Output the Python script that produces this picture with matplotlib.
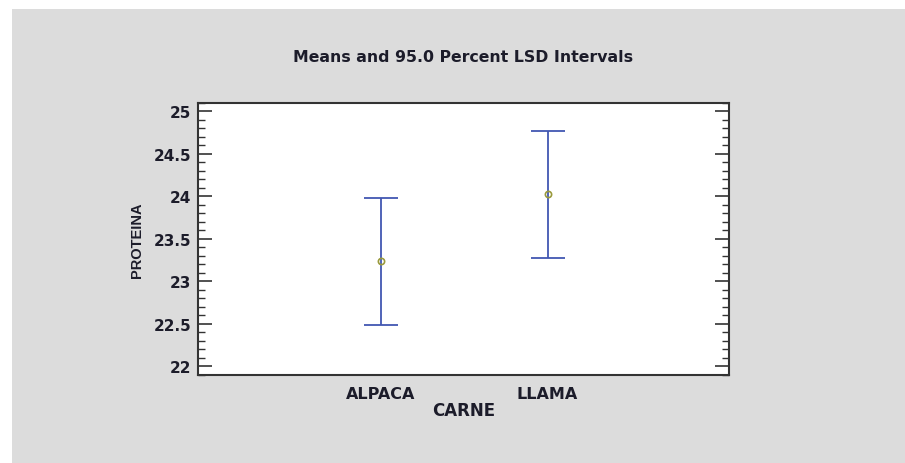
import matplotlib
matplotlib.use("Agg")
import matplotlib.pyplot as plt
from matplotlib.patches import Rectangle
from matplotlib.ticker import MultipleLocator, FormatStrFormatter

# Group means of protein content with 95% LSD half-widths
categories = ["ALPACA", "LLAMA"]
means = [23.235, 24.02]
lsd_half = [0.745, 0.745]

title = "Means and 95.0 Percent LSD Intervals"
xlabel = "CARNE"
ylabel = "PROTEINA"

W, H = 905, 464
fig = plt.figure(figsize=(W / 100, H / 100), dpi=100)
fig.patch.set_facecolor("white")

# grey panel behind the plot
fig.patches.append(Rectangle((12 / W, 0), 1 - 12 / W, 1 - 10 / H,
                             transform=fig.transFigure, facecolor="#dcdcdc",
                             edgecolor="none", zorder=-10))

left, right = 198 / W, 729 / W
bottom, top = 1 - 376 / H, 1 - 103.5 / H
ax = fig.add_axes([left, bottom, right - left, top - bottom])
ax.set_facecolor("white")

x = list(range(len(categories)))
ax.errorbar(x, means, yerr=lsd_half, fmt="none", ecolor="#4257b2",
            elinewidth=1.3, capsize=12.5, capthick=1.3)
ax.plot(x, means, linestyle="none", marker="o", markersize=4.5,
        markerfacecolor="none", markeredgecolor="#9a9a3c", markeredgewidth=1.2)

ax.set_xlim(-1.1, 2.09)
ax.set_ylim(21.9, 25.1)

ax.set_xticks(x)
ax.set_xticklabels(categories)
ax.tick_params(axis="x", length=0, pad=8)
for lab in ax.get_xticklabels():
    lab.set_fontfamily("DejaVu Sans")
    lab.set_fontweight("bold")
    lab.set_fontsize(11.5)
    lab.set_color("#1c1c2a")

ax.yaxis.set_major_locator(MultipleLocator(0.5))
ax.yaxis.set_minor_locator(MultipleLocator(0.1))
ax.yaxis.set_major_formatter(FormatStrFormatter("%g"))
ax.tick_params(axis="y", which="major", direction="in", length=10, width=1.2,
               color="#333333", left=True, right=True, pad=5)
ax.tick_params(axis="y", which="minor", direction="in", length=5, width=1.0,
               color="#333333", left=True, right=True)
for lab in ax.get_yticklabels():
    lab.set_fontfamily("DejaVu Sans")
    lab.set_fontweight("bold")
    lab.set_fontsize(11)
    lab.set_color("#1c1c2a")

for sp in ax.spines.values():
    sp.set_linewidth(1.5)
    sp.set_color("#333333")

ax.set_xlabel(xlabel, fontfamily="DejaVu Sans", fontweight="bold",
              fontsize=12, color="#1c1c2a", labelpad=0)
ax.set_ylabel(ylabel, fontfamily="Liberation Sans", fontweight="bold",
              fontsize=10.5, color="#1c1c2a", labelpad=7)

fig.text(463 / W, 1 - 57 / H, title, ha="center", va="center",
         fontfamily="DejaVu Sans", fontweight="bold", fontsize=11.3,
         color="#1c1c2a")

fig.savefig("out.png", dpi=100)
